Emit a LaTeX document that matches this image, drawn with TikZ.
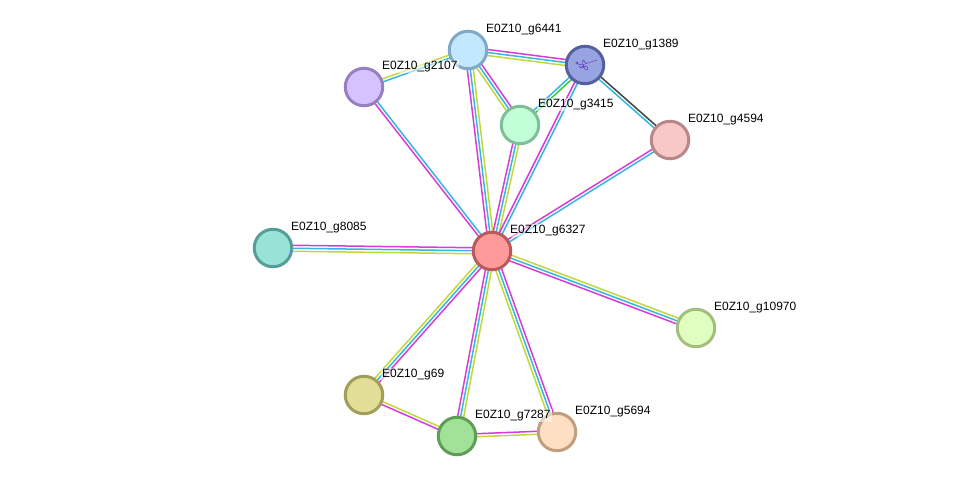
\documentclass[tikz,border=0pt]{standalone}
\usepackage{fontspec}
\setmainfont{Liberation Sans}
\usetikzlibrary{calc}
\definecolor{emag}{HTML}{D83BD8}
\definecolor{ecya}{HTML}{35B8DC}
\definecolor{eyel}{HTML}{C2D83A}
\definecolor{egrn}{HTML}{3FC83F}
\definecolor{edrk}{HTML}{444444}
% disc colours: fill and rim for each protein
\definecolor{f6327}{HTML}{FF9A9A}\definecolor{r6327}{HTML}{B85A5A}
\definecolor{f6441}{HTML}{C2E8FF}\definecolor{r6441}{HTML}{7FA9C4}
\definecolor{f1389}{HTML}{98A3E2}\definecolor{r1389}{HTML}{55609F}
\definecolor{f2107}{HTML}{D5C2FF}\definecolor{r2107}{HTML}{9880C0}
\definecolor{f3415}{HTML}{C2FFD8}\definecolor{r3415}{HTML}{7FBF98}
\definecolor{f4594}{HTML}{F8C8C8}\definecolor{r4594}{HTML}{B88888}
\definecolor{f8085}{HTML}{98E2D8}\definecolor{r8085}{HTML}{559F98}
\definecolor{f10970}{HTML}{E2FFC2}\definecolor{r10970}{HTML}{A3BF80}
\definecolor{f69}{HTML}{E2DE98}\definecolor{r69}{HTML}{A09E58}
\definecolor{f7287}{HTML}{A2E298}\definecolor{r7287}{HTML}{5F9F55}
\definecolor{f5694}{HTML}{FFDFC2}\definecolor{r5694}{HTML}{BF9F80}
\tikzset{
  protein/.style={circle,draw=r#1,fill=f#1,line width=3pt,minimum size=37.5pt,inner sep=0pt},
  taglabel/.style={anchor=west,font=\fontsize{12}{14}\selectfont,text=black,fill=white,fill opacity=0.55,text opacity=1,inner sep=1pt},
  evidence/.style={line width=1.5pt}
}
% one coloured strand of an edge, displaced sideways from the centre line
\newcommand{\strand}[4]{\draw[evidence,#4] ($(#1.center)!#3pt!90:(#2.center)$) -- ($(#2.center)!#3pt!-90:(#1.center)$);}
\newcommand{\triple}[5]{\strand{#1}{#2}{3}{#3}\strand{#1}{#2}{0}{#4}\strand{#1}{#2}{-3}{#5}}
\newcommand{\double}[4]{\strand{#1}{#2}{1.5}{#3}\strand{#1}{#2}{-1.5}{#4}}
\begin{document}
\begin{tikzpicture}[x=1pt,y=-1pt]
\useasboundingbox[fill=white] (0,0) rectangle (976,481);
% node centres, so the edges can be laid beneath the discs
\coordinate (c6327) at (492,251);
\coordinate (c6441) at (468,50);
\coordinate (c1389) at (585,65);
\coordinate (c2107) at (364,87);
\coordinate (c3415) at (520,125);
\coordinate (c4594) at (670,140);
\coordinate (c8085) at (273,248);
\coordinate (c10970) at (696,328);
\coordinate (c69) at (364,395);
\coordinate (c7287) at (457,436);
\coordinate (c5694) at (557,432);
% edges
\triple{c6327}{c8085}{eyel}{ecya}{emag}
\triple{c6327}{c10970}{eyel}{ecya}{emag}
\triple{c6327}{c5694}{emag}{ecya}{eyel}
\triple{c6327}{c7287}{eyel}{ecya}{emag}
\triple{c6327}{c69}{emag}{ecya}{eyel}
\double{c6327}{c2107}{emag}{ecya}
\triple{c6327}{c6441}{emag}{ecya}{eyel}
\triple{c6327}{c3415}{emag}{ecya}{eyel}
\double{c6327}{c1389}{emag}{ecya}
\double{c6327}{c4594}{emag}{ecya}
\triple{c6441}{c1389}{emag}{ecya}{eyel}
\double{c6441}{c2107}{ecya}{eyel}
\triple{c6441}{c3415}{emag}{ecya}{eyel}
\double{c1389}{c3415}{egrn}{ecya}
\double{c1389}{c4594}{edrk}{ecya}
\double{c69}{c7287}{eyel}{emag}
\double{c7287}{c5694}{emag}{eyel}
% protein discs
\node[protein=6327] (g6327) at (c6327) {};
\node[protein=6441] (g6441) at (c6441) {};
\node[protein=1389] (g1389) at (c1389) {};
\node[protein=2107] (g2107) at (c2107) {};
\node[protein=3415] (g3415) at (c3415) {};
\node[protein=4594] (g4594) at (c4594) {};
\node[protein=8085] (g8085) at (c8085) {};
\node[protein=10970] (g10970) at (c10970) {};
\node[protein=69] (g69) at (c69) {};
\node[protein=7287] (g7287) at (c7287) {};
\node[protein=5694] (g5694) at (c5694) {};
% small structure sketch inside g1389
\begin{scope}[shift={(c1389)},line width=0.45pt,draw=violet!60!blue,draw opacity=0.7,line cap=round,line join=round]
\draw (-7,-1) -- (-3,0) -- (3,-2) -- (12,-5);
\draw (-3,0) -- (-2,-5) -- (1,-2);
\draw (-2,0) -- (-1,2) -- (2,1) -- (3,5) -- (0,4) -- (-2,2) -- (1,1);
\draw (-8,-2) circle (1.3pt);
\draw (-6,1) -- (-4,3) -- (-2,1);
\end{scope}
% labels
\node[taglabel] (t6441) at (485,29.5) {E0Z10\_g6441};
\node[taglabel] (t1389) at (602,44.5) {E0Z10\_g1389};
\node[taglabel] (t2107) at (381,66.5) {E0Z10\_g2107};
\node[taglabel] (t3415) at (537,104.5) {E0Z10\_g3415};
\node[taglabel] (t4594) at (687,119.5) {E0Z10\_g4594};
\node[taglabel] (t6327) at (509,230.5) {E0Z10\_g6327};
\node[taglabel] (t8085) at (290,227.5) {E0Z10\_g8085};
\node[taglabel] (t10970) at (713,307.5) {E0Z10\_g10970};
\node[taglabel] (t69) at (381,374.5) {E0Z10\_g69};
\node[taglabel] (t7287) at (474,415.5) {E0Z10\_g7287};
\node[taglabel] (t5694) at (574,411.5) {E0Z10\_g5694};
\end{tikzpicture}
\end{document}
